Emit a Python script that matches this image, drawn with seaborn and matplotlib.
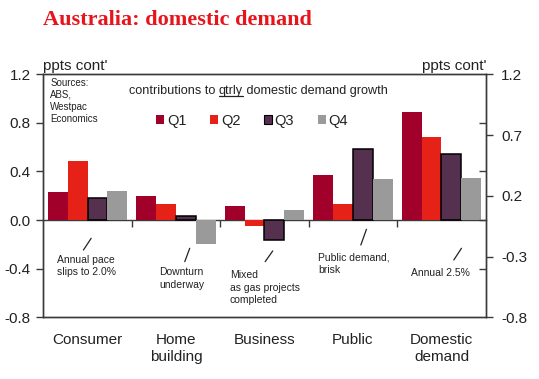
import matplotlib
matplotlib.use("Agg")
import matplotlib.pyplot as plt
import seaborn as sns
import pandas as pd
from matplotlib.lines import Line2D
from matplotlib.patches import Patch

# data
categories = ["Consumer", "Home\nbuilding", "Business", "Public", "Domestic\ndemand"]
quarters = ["Q1", "Q2", "Q3", "Q4"]
q1 = [0.23, 0.20, 0.12, 0.37, 0.89]
q2 = [0.49, 0.13, -0.05, 0.13, 0.685]
q3 = [0.18, 0.03, -0.16, 0.585, 0.545]
q4 = [0.24, -0.20, 0.08, 0.335, 0.343]
left_ticks = [1.2, 0.8, 0.4, 0.0, -0.4, -0.8]
right_ticks = [1.2, 0.7, 0.2, -0.3, -0.8]
colors = ["#a0002a", "#e62117", "#55304f", "#9a9a9a"]

notes = [
    ("Annual pace\nslips to 2.0%", -0.34, -0.376, (-0.046, -0.246), (0.041, -0.150)),
    ("Downturn\nunderway", 0.81, -0.482, (1.099, -0.342), (1.155, -0.232)),
    ("Mixed\nas gas projects\ncompleted", 1.606, -0.556, (2.008, -0.342), (2.093, -0.254)),
    ("Public demand,\nbrisk", 2.608, -0.360, (3.089, -0.205), (3.152, -0.076)),
    ("Annual 2.5%", 3.659, -0.438, (4.140, -0.328), (4.226, -0.232)),
]

df = pd.DataFrame({
    "category": categories * 4,
    "quarter": [q for q in quarters for _ in categories],
    "value": q1 + q2 + q3 + q4,
})

sns.set_style("white")
plt.rcParams["font.family"] = ["Liberation Sans", "DejaVu Sans"]
txt = "#222222"
frame = "#3a3a3a"

fig = plt.figure(figsize=(5.39, 3.79), dpi=100)
ax = fig.add_axes([0.0803, 0.1628, 0.8208, 0.6412])

sns.barplot(data=df, x="category", y="value", hue="quarter", order=categories,
            hue_order=quarters, palette=colors, saturation=1, width=0.9,
            linewidth=0, legend=False, ax=ax)

for bar in ax.containers[2]:
    bar.set_edgecolor("black")
    bar.set_linewidth(1.1)

ax.set_ylim(-0.8, 1.2)
ax.set_xlim(-0.5, len(categories) - 0.5)
ax.set_yticks(left_ticks)
ax.set_yticklabels([f"{t:.1f}" for t in left_ticks])
ax.set_xlabel("")
ax.set_ylabel("")
ax.tick_params(axis="y", direction="out", length=5, width=1, color=frame,
               labelsize=11, labelcolor=txt, pad=4)
ax.tick_params(axis="x", length=0, labelsize=11, labelcolor=txt, pad=11)
for lab in ax.get_xticklabels():
    lab.set_linespacing(1.3)
for s in ax.spines.values():
    s.set_color(frame)
    s.set_linewidth(1)

# right hand axis
ax2 = ax.twinx()
ax2.set_ylim(-0.8, 1.2)
ax2.set_yticks(right_ticks)
ax2.set_yticklabels([f"{t:.1f}" for t in right_ticks])
ax2.set_yticks(left_ticks[1:-1], minor=True)
ax2.tick_params(axis="y", which="major", direction="out", length=5, width=1,
                color=frame, labelsize=11, labelcolor=txt, pad=6)
ax2.tick_params(axis="y", which="minor", direction="in", length=5, width=1,
                color=frame)
for s in ax2.spines.values():
    s.set_color(frame)
    s.set_linewidth(1)

# zero line with group separators
sec = ax.secondary_xaxis(0.4)
sec.set_xticks([i + 0.5 for i in range(len(categories) - 1)])
sec.xaxis.set_ticks_position("bottom")
sec.tick_params(direction="out", length=5, width=1, color=frame, labelbottom=False)
for s in sec.spines.values():
    s.set_color(frame)
    s.set_linewidth(1)

# legend
handles = [Patch(facecolor=c, edgecolor="black" if q == "Q3" else c,
                 linewidth=0.8 if q == "Q3" else 0)
           for q, c in zip(quarters, colors)]
ax.legend(handles, quarters, ncol=4, loc="center", bbox_to_anchor=(0.472, 0.809),
          frameon=False, fontsize=10.5, handlelength=0.55, handleheight=0.55,
          handletextpad=0.2, columnspacing=1.6, labelcolor=txt)

# texts inside the plot
ax.text(0.016, 0.985, "Sources:\nABS,\nWestpac\nEconomics", transform=ax.transAxes,
        ha="left", va="top", fontsize=7, linespacing=1.25, color=txt)
t1 = ax.text(0.194, 0.9325, "contributions to ", transform=ax.transAxes,
             ha="left", va="center", fontsize=9.1, color=txt)
t2 = ax.annotate("qtrly", xy=(1, 0), xycoords=t1, ha="left", va="bottom",
                 fontsize=9.1, color=txt)
ax.annotate(" domestic demand growth", xy=(1, 0), xycoords=t2, ha="left",
            va="bottom", fontsize=9.1, color=txt)

for label, tx, ty, p0, p1 in notes:
    ax.text(tx, ty, label, ha="left", va="center", fontsize=7.5, color=txt,
            linespacing=1.3)
    ax.plot([p0[0], p1[0]], [p0[1], p1[1]], color=txt, lw=0.9)

fig.text(0.08, 0.947, "Australia: domestic demand", ha="left", va="center",
         fontsize=16, fontweight="bold", color="#e8141c",
         family=["Liberation Serif", "DejaVu Serif"])
fig.text(0.08, 0.826, "ppts cont'", ha="left", va="center", fontsize=11, color=txt)
fig.text(0.902, 0.826, "ppts cont'", ha="right", va="center", fontsize=11, color=txt)

# underline "qtrly"
fig.canvas.draw()
bb = t2.get_window_extent().transformed(fig.transFigure.inverted())
fig.add_artist(Line2D([bb.x0, bb.x1], [bb.y0 + 0.002, bb.y0 + 0.002],
                      transform=fig.transFigure, color=txt, lw=0.9))

fig.savefig("out.png", dpi=100)
